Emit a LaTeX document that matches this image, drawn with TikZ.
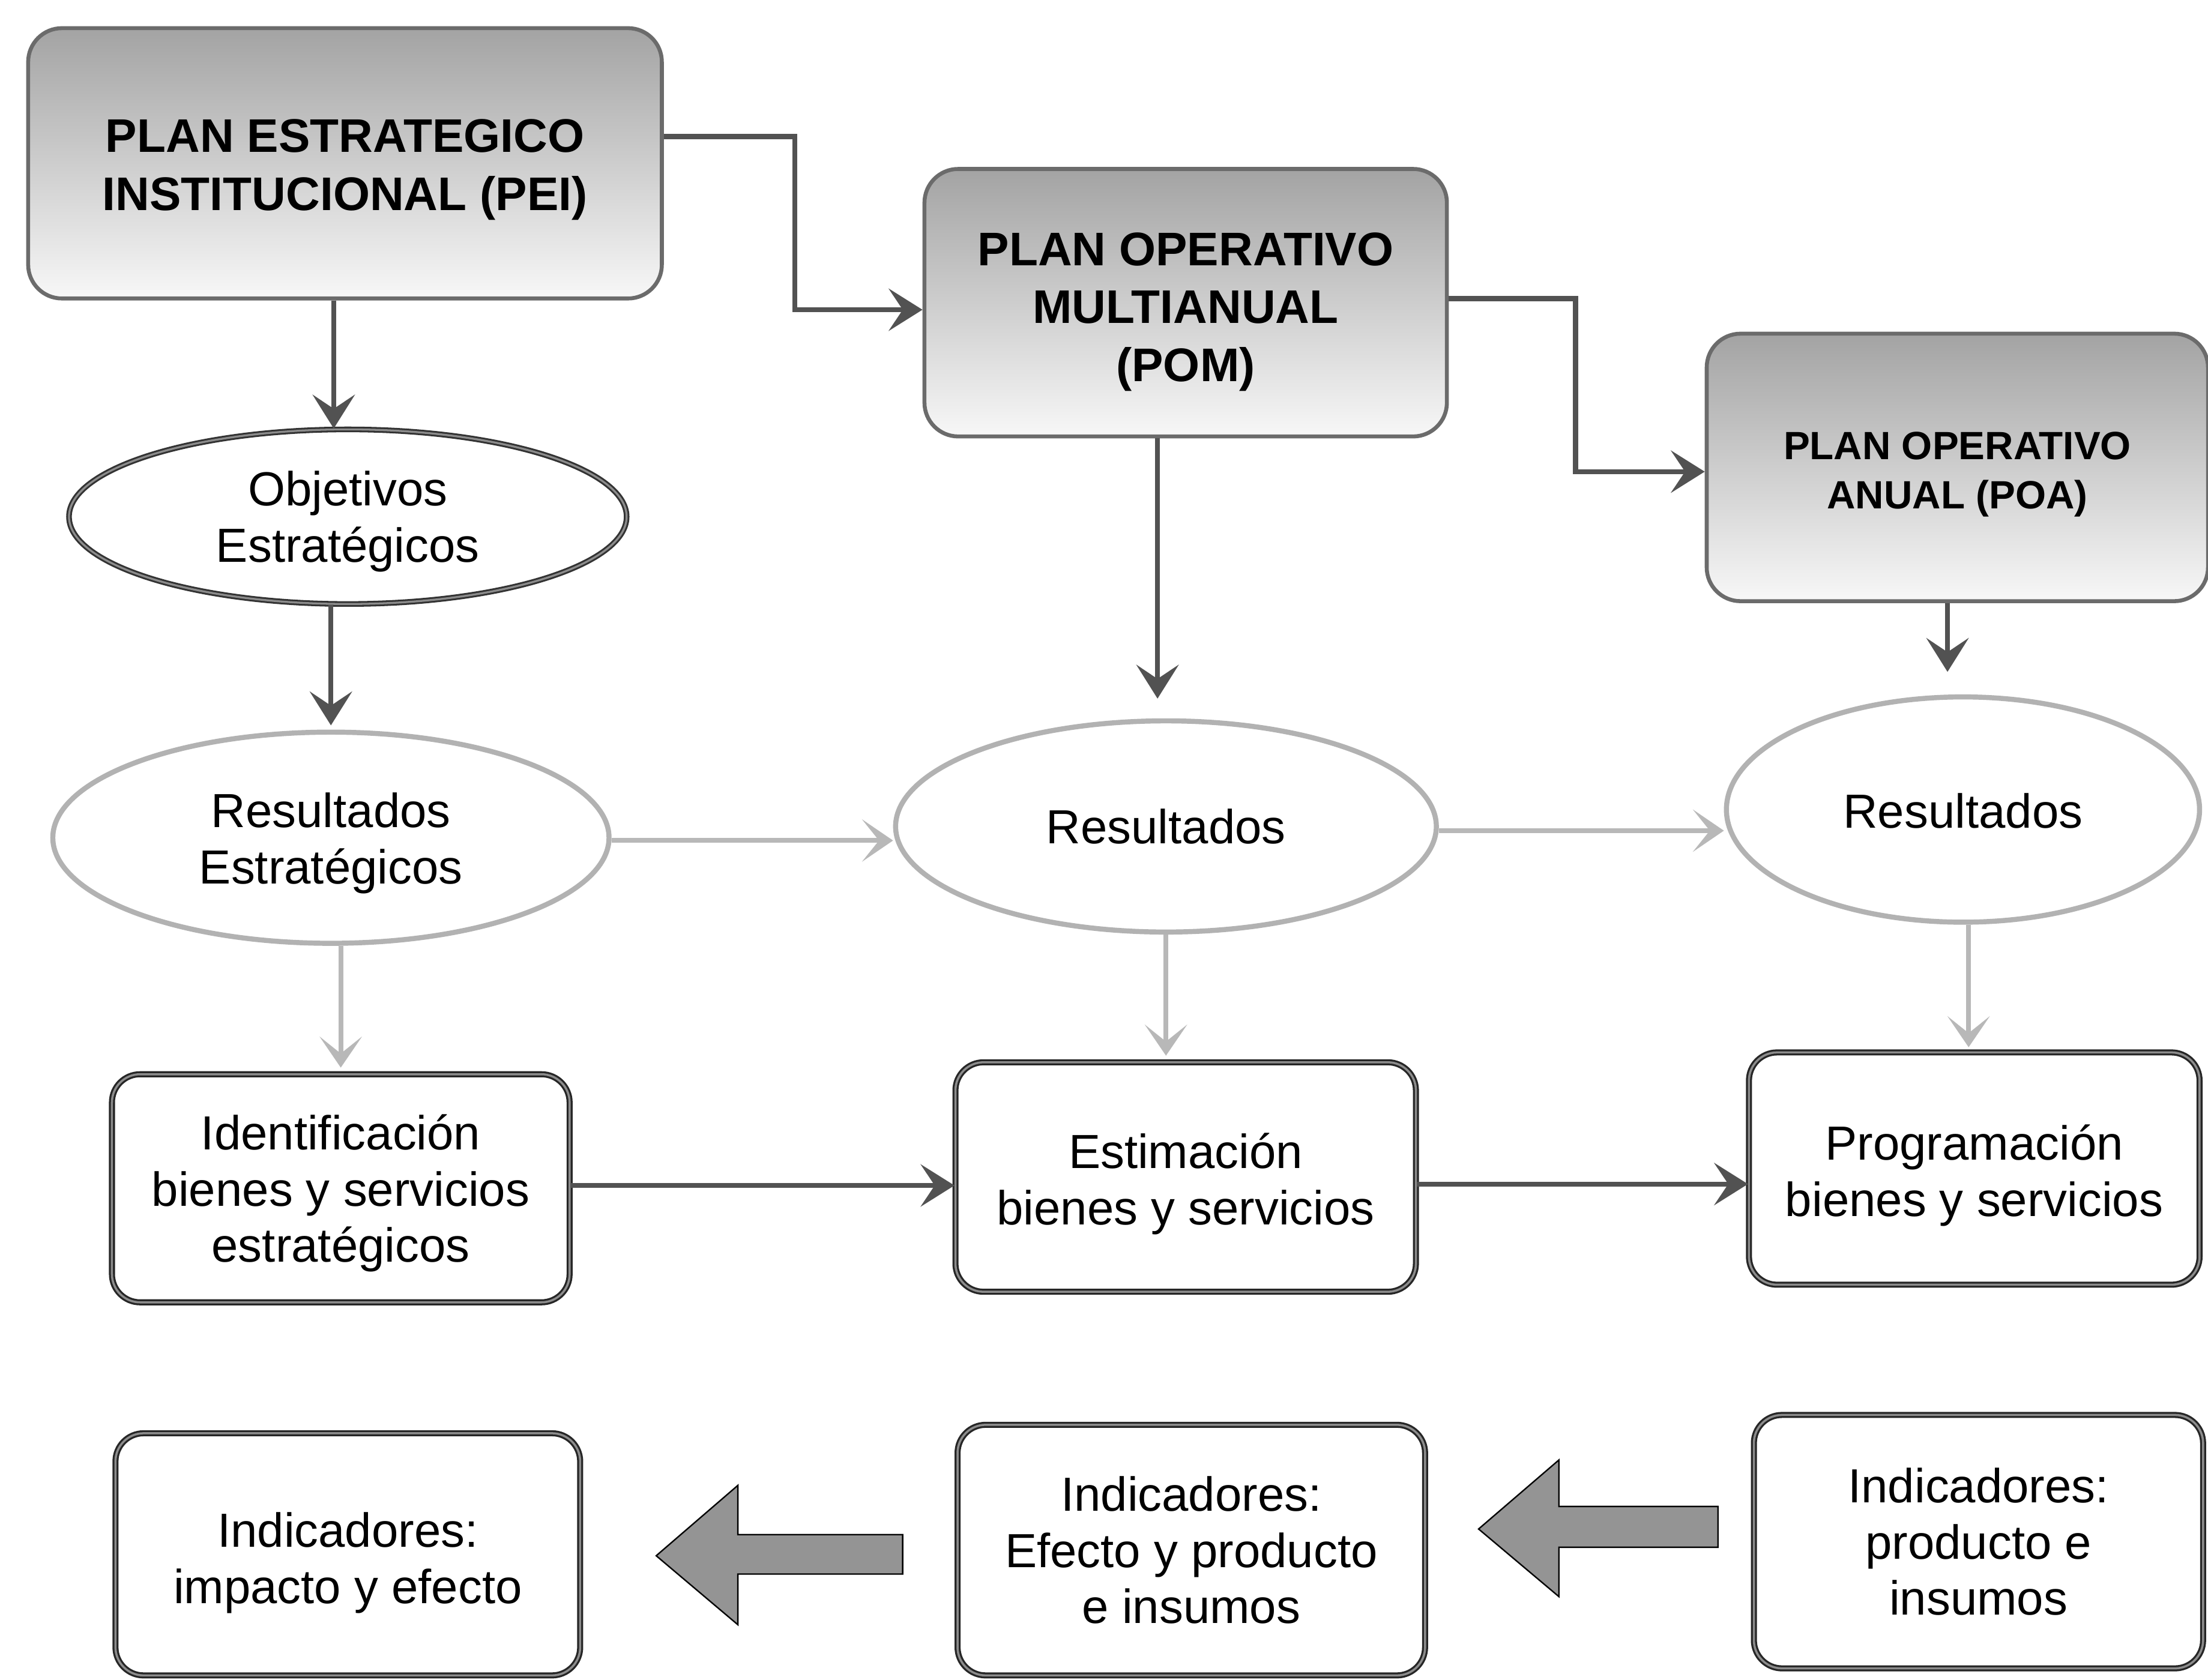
\documentclass[tikz,border=0pt]{standalone}
\usepackage{fontspec}
\setmainfont{Liberation Sans}
\usetikzlibrary{arrows.meta,shapes.geometric}

\begin{document}
\begin{tikzpicture}[x=1pt,y=-1pt,
  planbox/.style={draw=black!58, line width=2.8pt, rounded corners=24pt,
    top color=black!36, bottom color=black!3, inner sep=0pt},
  stagebox/.style={draw=black!85, line width=1.4pt, double=black!45,
    double distance=1.5pt, rounded corners=20pt, fill=white, inner sep=0pt},
  darkoval/.style={ellipse, draw=black!80, line width=1.3pt, double=black!45,
    double distance=1.4pt, fill=white, inner sep=0pt},
  lightoval/.style={ellipse, draw=black!30, line width=3.6pt, fill=white,
    inner sep=0pt},
  headtxt/.style={align=center, inner sep=0pt,
    font=\bfseries\fontsize{33.5}{41}\selectfont},
  smallhead/.style={align=center, inner sep=0pt,
    font=\bfseries\fontsize{28}{35}\selectfont},
  bodytxt/.style={align=center, inner sep=0pt,
    font=\fontsize{34}{40}\selectfont},
  darklink/.style={draw=black!68, line width=3.6pt,
    -{Stealth[length=24pt,width=30pt,inset=10pt]}},
  lightlink/.style={draw=black!28, line width=3.4pt,
    -{Stealth[length=22pt,width=30pt,inset=12pt]}},
  blockarrow/.style={fill=black!42, draw=black, line width=1pt, line join=miter}
]
\useasboundingbox (0,0) rectangle (1568,1193);
\fill[white] (0,0) rectangle (1568,1193);

% planning documents
\node[planbox, minimum width=450pt, minimum height=192pt,
  label={[headtxt, yshift=-4.5pt]center:{PLAN ESTRATEGICO\\INSTITUCIONAL (PEI)}}]
  (PEI) at (245,116) {};
\node[planbox, minimum width=371pt, minimum height=190pt,
  label={[headtxt, yshift=-6.5pt]center:{PLAN OPERATIVO\\MULTIANUAL\\(POM)}}]
  (POM) at (842,215) {};
\node[planbox, minimum width=356pt, minimum height=190pt,
  label={[smallhead, yshift=-5pt]center:{PLAN OPERATIVO\\ANUAL (POA)}}]
  (POA) at (1390,332) {};

% objectives and results
\node[darkoval, minimum width=396pt, minimum height=124pt,
  label={[bodytxt, yshift=-3.5pt]center:{Objetivos\\Estratégicos}}]
  (Obj) at (247,367) {};
\node[lightoval, minimum width=395pt, minimum height=150pt,
  label={[bodytxt, yshift=-4pt]center:{Resultados\\Estratégicos}}]
  (ResE) at (235,595) {};
\node[lightoval, minimum width=384pt, minimum height=150pt,
  label={[bodytxt]center:{Resultados}}]
  (ResM) at (828,587) {};
\node[lightoval, minimum width=336pt, minimum height=160pt,
  label={[bodytxt, yshift=-1pt]center:{Resultados}}]
  (ResR) at (1394,575) {};

% goods and services
\node[stagebox, minimum width=325pt, minimum height=162pt,
  label={[bodytxt, yshift=-3.5pt]center:{Identificación\\bienes y servicios\\estratégicos}}]
  (Ident) at (242,844) {};
\node[stagebox, minimum width=327pt, minimum height=163pt,
  label={[bodytxt, yshift=-5pt]center:{Estimación\\bienes y servicios}}]
  (Est) at (842,836) {};
\node[stagebox, minimum width=320pt, minimum height=165pt,
  label={[bodytxt, yshift=-5pt]center:{Programación\\bienes y servicios}}]
  (Prog) at (1402,830) {};

% indicators
\node[stagebox, minimum width=330pt, minimum height=172pt,
  label={[bodytxt, yshift=-6pt]center:{Indicadores:\\impacto y efecto}}]
  (IndA) at (247,1104) {};
\node[stagebox, minimum width=332pt, minimum height=178pt,
  label={[bodytxt]center:{Indicadores:\\Efecto y producto\\e insumos}}]
  (IndB) at (846,1101) {};
\node[stagebox, minimum width=319pt, minimum height=180pt,
  label={[bodytxt]center:{Indicadores:\\producto e\\insumos}}]
  (IndC) at (1405,1095) {};

% links between the plans
\draw[darklink] ([yshift=19pt]PEI.east) -- ++(93,0) |- ([yshift=-5pt]POM.west);
\draw[darklink] ([yshift=3pt]POM.east) -- ++(90,0) |- ([yshift=-3pt]POA.west);

% downward links from the plans
\draw[darklink] ([xshift=-8pt]PEI.south) -- ([xshift=-8pt]PEI.south |- Obj.north);
\draw[darklink] (Obj.south -| ResE.north) -- ([yshift=3pt]ResE.north);
\draw[darklink, shorten >=14pt] ([xshift=-20pt]POM.south) -- ([xshift=-20pt]POM.south |- ResM.north);
\draw[darklink, shorten >=16pt] ([xshift=-7pt]POA.south) -- ([xshift=-7pt]POA.south |- ResR.north);

% links between the results
\draw[lightlink] ([yshift=-2pt]ResE.east) -- ([yshift=-2pt]ResE.east -| ResM.west);
\draw[lightlink] ([yshift=-3pt]ResM.east) -- ([yshift=-3pt]ResM.east -| ResR.west);

% results to goods and services
\draw[lightlink, shorten >=4pt] (Ident.north |- ResE.south) -- (Ident.north);
\draw[lightlink, shorten >=4pt] (ResM.south) -- (ResM.south |- Est.north);
\draw[lightlink, shorten >=3pt] ([xshift=4pt]ResR.south) -- ([xshift=4pt]ResR.south |- Prog.north);

% links between goods and services
\draw[darklink] ([yshift=2pt]Ident.east) -- ([yshift=2pt]Ident.east -| Est.west);
\draw[darklink] ([yshift=-5pt]Est.east) -- ([yshift=-5pt]Est.east -| Prog.west);

% block arrows between the indicators
\draw[blockarrow] (641,1090) -- (524,1090) -- (524,1055) -- (466,1105)
  -- (524,1154) -- (524,1118) -- (641,1118) -- cycle;
\draw[blockarrow] (1220,1070) -- (1107,1070) -- (1107,1037) -- (1050,1086)
  -- (1107,1134) -- (1107,1099) -- (1220,1099) -- cycle;
\end{tikzpicture}
\end{document}
